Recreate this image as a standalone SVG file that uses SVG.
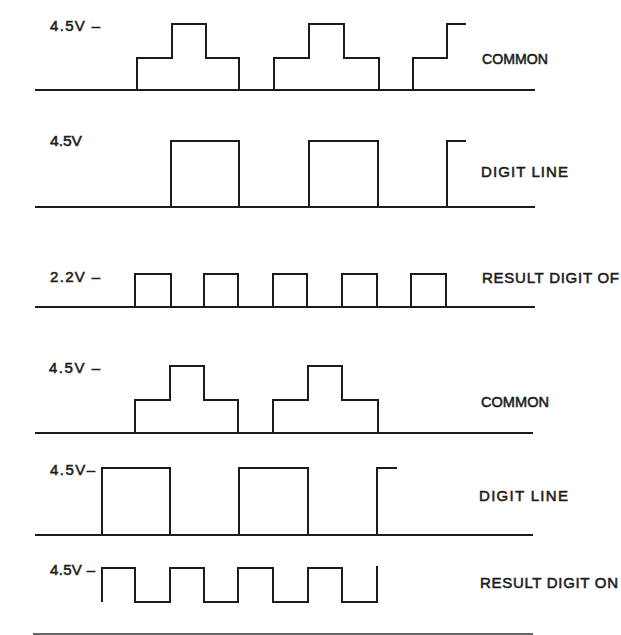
<svg xmlns="http://www.w3.org/2000/svg" width="621" height="635" viewBox="0 0 621 635">
<style>
.w{fill:none;stroke:#1c1c1c;stroke-width:2;stroke-linejoin:miter;stroke-linecap:square}
.b{fill:none;stroke:#1c1c1c;stroke-width:2}
.t{font-family:"Liberation Sans",Arial,sans-serif;font-size:15px;fill:#1c1c1c;stroke:#1c1c1c;stroke-width:0.55}
</style>
<rect width="621" height="635" fill="#fff"/>
<g id="common1">
<line class="b" x1="35" y1="90" x2="535" y2="90"/>
<path class="w" d="M137,90 V58 H172 V24 H206 V58 H239 V90 M274,90 V58 H309 V24 H344 V58 H379 V90 M413,90 V58 H447 V24 H465"/>
<text class="t" x="50" y="31" textLength="50" lengthAdjust="spacing">4.5V –</text>
<text class="t" x="482" y="64" textLength="66" lengthAdjust="spacingAndGlyphs">COMMON</text>
</g>
<g id="digit1">
<line class="b" x1="35" y1="207" x2="535" y2="207"/>
<path class="w" d="M171,207 V141 H239 V207 M309,207 V141 H378 V207 M447,207 V141 H465"/>
<text class="t" x="50" y="146" textLength="32" lengthAdjust="spacingAndGlyphs">4.5V</text>
<text class="t" x="481" y="177" textLength="87" lengthAdjust="spacing">DIGIT LINE</text>
</g>
<g id="resultOff">
<line class="b" x1="35" y1="307" x2="535" y2="307"/>
<path class="w" d="M135,307 V274 H171 V307 M204,307 V274 H238 V307 M273,307 V274 H307 V307 M342,307 V274 H377 V307 M411,307 V274 H446 V307"/>
<text class="t" x="50" y="282" textLength="50" lengthAdjust="spacing">2.2V –</text>
<text class="t" x="482" y="283" textLength="137" lengthAdjust="spacing">RESULT DIGIT OF</text>
</g>
<g id="common2">
<line class="b" x1="35" y1="433" x2="533" y2="433"/>
<path class="w" d="M135,433 V400 H170 V366 H204 V400 H238 V433 M273,433 V400 H308 V366 H342 V400 H378 V433"/>
<text class="t" x="49" y="373" textLength="51" lengthAdjust="spacing">4.5V –</text>
<text class="t" x="481" y="407" textLength="68" lengthAdjust="spacingAndGlyphs">COMMON</text>
</g>
<g id="digit2">
<line class="b" x1="35" y1="535" x2="533" y2="535"/>
<path class="w" d="M102,535 V468 H170 V535 M239,535 V468 H308 V535 M377,535 V468 H396"/>
<text class="t" x="50" y="475" textLength="45" lengthAdjust="spacing">4.5V–</text>
<text class="t" x="479" y="501" textLength="89" lengthAdjust="spacing">DIGIT LINE</text>
</g>
<g id="resultOn">
<path class="w" d="M102,601 V568 H135 V602 H170 V568 H204 V602 H238 V568 H273 V602 H308 V568 H342 V602 H377 V567"/>
<text class="t" x="50" y="575" textLength="45" lengthAdjust="spacing">4.5V –</text>
<text class="t" x="480" y="588" textLength="138" lengthAdjust="spacing">RESULT DIGIT ON</text>
<line x1="33" y1="634" x2="533" y2="634" stroke="#666" stroke-width="2"/>
</g>
</svg>
